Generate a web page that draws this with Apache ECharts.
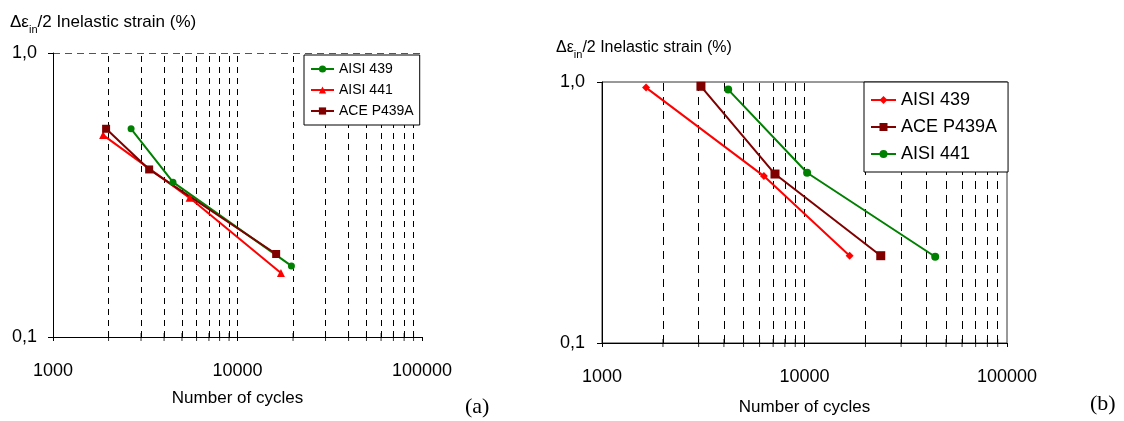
<!DOCTYPE html>
<html>
<head>
<meta charset="utf-8">
<script src="https://cdn.jsdelivr.net/npm/echarts@6/dist/echarts.min.js"></script>
<style>
  html, body { margin: 0; padding: 0; background: #fff; }
  #chart { width: 1124px; height: 421px; }
</style>
</head>
<body>
<div id="chart"></div>
<script>
// ---- data: panel (a) ----
const a439Cycles = [2650, 4470, 19600];
const a439Strain = [0.541, 0.351, 0.178];
const a441Cycles = [1870, 5500, 17200];
const a441Strain = [0.514, 0.309, 0.168];
const aAceCycles = [1940, 3320, 16200];
const aAceStrain = [0.541, 0.389, 0.196];

// ---- data: panel (b) ----
const b439Cycles = [1650, 6300, 16700];
const b439Strain = [0.952, 0.436, 0.216];
const bAceCycles = [3080, 7150, 23800];
const bAceStrain = [0.963, 0.444, 0.216];
const b441Cycles = [4200, 10300, 44200];
const b441Strain = [0.935, 0.449, 0.214];

// ---- axis text ----
const yTickLabels = { '1': '1,0', '0.1': '0,1' };
const xTitle = 'Number of cycles';
const yTitleParts = ['Δε', 'in', '/2 Inelastic strain (%)'];

// dashed minor grid positions (2..9 in each decade)
const minorA = [2000, 3000, 4000, 5000, 6000, 7000, 8000, 9000, 10000,
                20000, 30000, 40000, 50000, 60000, 70000, 80000, 90000];
const minorB = minorA;

const FONT = 'Liberation Sans, Arial, sans-serif';
const GREEN = '#008000', RED = '#ff0000', MAROON = '#800000';

function pairs(xs, ys) { return xs.map((x, i) => [x, ys[i]]); }

function yLabel(v) {
  if (Math.abs(v - 1) < 1e-6) return yTickLabels['1'];
  if (Math.abs(v - 0.1) < 1e-6) return yTickLabels['0.1'];
  return '';
}

function xAxisFor(idx, nameGap) {
  return {
    type: 'log', logBase: 10, gridIndex: idx, min: 1000, max: 100000,
    name: xTitle, nameLocation: 'middle', nameGap: nameGap,
    nameTextStyle: { fontFamily: FONT, fontSize: 17, color: '#000' },
    axisLine: { lineStyle: { color: '#000', width: 1 } },
    axisTick: { show: true, length: 4, lineStyle: { color: '#000' } },
    axisLabel: { margin: 25, fontFamily: FONT, fontSize: 18, color: '#000',
                 formatter: v => String(Math.round(v)) },
    splitLine: { show: false }, minorTick: { show: false }
  };
}

function yAxisFor(idx, dashedTop, margin) {
  return {
    type: 'log', logBase: 10, gridIndex: idx, min: 0.1, max: 1,
    axisLine: { lineStyle: { color: '#000', width: 1 } },
    axisTick: { show: true, length: 5, lineStyle: { color: '#000' } },
    axisLabel: { margin: margin, fontFamily: FONT, fontSize: 18, color: '#000', formatter: yLabel },
    splitLine: { show: dashedTop, lineStyle: { color: '#555', type: [7, 5] } }
  };
}

// vertical dashed grid lines + small ticks across the x axis
function gridHelpers(idx, xs, dash) {
  return [
    {
      type: 'line', xAxisIndex: idx, yAxisIndex: idx, data: [], silent: true, z: 1,
      markLine: {
        z: 1, silent: true, symbol: 'none', label: { show: false }, animation: false,
        lineStyle: { color: '#000', type: dash, width: 1 },
        data: xs.map(v => ({ xAxis: v }))
      }
    },
    {
      type: 'scatter', xAxisIndex: idx, yAxisIndex: idx, silent: true, z: 1, clip: false,
      symbol: 'rect', symbolSize: [1, 8], itemStyle: { color: '#000' },
      data: xs.map(v => [v, 0.1])
    }
  ];
}

function dataSeries(idx, name, xs, ys, color, symbol, size) {
  return {
    type: 'line', name: name, xAxisIndex: idx, yAxisIndex: idx, z: 3,
    data: pairs(xs, ys), symbol: symbol, symbolSize: size, showSymbol: true,
    lineStyle: { color: color, width: 2 }, itemStyle: { color: color },
    animation: false
  };
}

function titleRich(size, sub) {
  return {
    d: { fontFamily: FONT, fontSize: size, fontWeight: 'normal', color: '#000', lineHeight: size + 4, verticalAlign: 'bottom' },
    s: { fontFamily: FONT, fontSize: sub, fontWeight: 'normal', color: '#000', lineHeight: size + 4, verticalAlign: 'bottom', padding: [0, 0, -4, 0] }
  };
}
const titleText = '{d|' + yTitleParts[0] + '}{s|' + yTitleParts[1] + '}{d|' + yTitleParts[2] + '}';

const option = {
  animation: false,
  backgroundColor: '#fff',
  title: [
    { text: titleText, left: 10, top: 10, padding: 0, textStyle: { fontWeight: 'normal', rich: titleRich(17, 11) } },
    { text: titleText, left: 556, top: 36, padding: 0, textStyle: { fontWeight: 'normal', rich: titleRich(16, 11) } }
  ],
  grid: [
    { left: 53, top: 53, width: 369, height: 284, show: false },
    { left: 602, top: 82, width: 405, height: 261, show: true, borderColor: '#333', borderWidth: 1, backgroundColor: 'transparent' }
  ],
  xAxis: [xAxisFor(0, 53), xAxisFor(1, 56)],
  yAxis: [yAxisFor(0, true, 16), yAxisFor(1, false, 17)],
  legend: [
    {
      z: 20,
      data: ['AISI 439', 'AISI 441', 'ACE P439A'],
      orient: 'vertical', left: 304, top: 55, padding: [7, 6, 7, 6],
      itemWidth: 23, itemHeight: 9, itemGap: 7,
      backgroundColor: '#fff', borderColor: '#000', borderWidth: 1, borderRadius: 0,
      textStyle: { fontFamily: FONT, fontSize: 14, color: '#000' },
      selectedMode: false
    },
    {
      z: 20,
      data: ['AISI 439 ', 'ACE P439A ', 'AISI 441 '],
      orient: 'vertical', left: 864, top: 82, padding: [9, 6, 9, 6],
      itemWidth: 25, itemHeight: 10, itemGap: 9,
      backgroundColor: '#fff', borderColor: '#000', borderWidth: 1, borderRadius: 0,
      textStyle: { fontFamily: FONT, fontSize: 18, color: '#000' },
      selectedMode: false
    }
  ],
  graphic: [
    { type: 'text', left: 465, top: 396, style: { text: '(a)', font: '22px "Liberation Serif", "Times New Roman", serif', fill: '#000' } },
    { type: 'text', left: 1090, top: 393, style: { text: '(b)', font: '22px "Liberation Serif", "Times New Roman", serif', fill: '#000' } }
  ],
  series: [
    ...gridHelpers(0, minorA, [6, 5]),
    ...gridHelpers(1, minorB, [8, 6]),
    dataSeries(0, 'AISI 439', a439Cycles, a439Strain, GREEN, 'circle', 7),
    dataSeries(0, 'AISI 441', a441Cycles, a441Strain, RED, 'triangle', 8),
    dataSeries(0, 'ACE P439A', aAceCycles, aAceStrain, MAROON, 'rect', 8),
    dataSeries(1, 'AISI 439 ', b439Cycles, b439Strain, RED, 'diamond', 8),
    dataSeries(1, 'ACE P439A ', bAceCycles, bAceStrain, MAROON, 'rect', 9),
    dataSeries(1, 'AISI 441 ', b441Cycles, b441Strain, GREEN, 'circle', 8)
  ]
};

const chart = echarts.init(document.getElementById('chart'), null, { renderer: 'canvas' });
chart.setOption(option);
</script>
</body>
</html>
